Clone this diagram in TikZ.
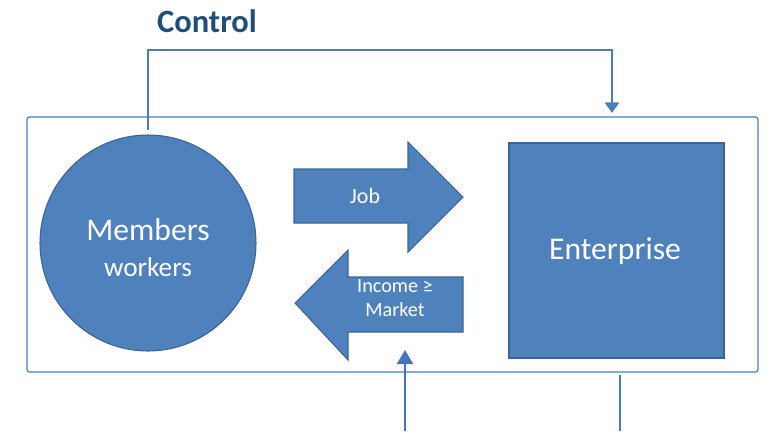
\documentclass[tikz,border=0pt]{standalone}
\usepackage{fontspec}
\setmainfont{Carlito}
\usepackage{tikz}
\usetikzlibrary{arrows.meta}

\definecolor{boxblue}{HTML}{4F81BD}
\definecolor{edgeblue}{HTML}{3B6496}
\definecolor{lineblue}{HTML}{4A7EBB}
\definecolor{titleblue}{HTML}{1F4E79}
\definecolor{pushblue}{HTML}{4472C4}

\begin{document}
\begin{tikzpicture}[
        block/.style={fill=boxblue, draw=edgeblue, line width=.6pt},
        label/.style={text=white, align=center},
        link/.style={lineblue, line width=1.6pt}
    ]
            \useasboundingbox (0,0) rectangle (15.38,8.62);

            % frame round the whole firm
            \draw[lineblue, line width=.7pt, rounded corners=1.5pt] (.54,1.18) rectangle (15.16,6.28);

            \node[block, circle, minimum size=4.32cm, inner sep=0pt] (members) at (2.96,3.76) {};
            \node[label, font=\fontsize{18}{20}\selectfont] (memtxt) at (2.96,4.02) {Members};
            \node[label, font=\fontsize{15.5}{17}\selectfont] (worktxt) at (2.96,3.28) {workers};

            \node[block, minimum width=4.3cm, minimum height=4.3cm, inner sep=0pt] (firm) at (12.33,3.61) {};
            \node[label, font=\fontsize{18}{20}\selectfont] (firmtxt) at (12.30,3.60) {Enterprise};

            % the two broad arrows
            \filldraw[block] (5.88,5.24) -- (8.16,5.24) -- (8.16,5.78) -- (9.26,4.68)
                -- (8.16,3.58) -- (8.16,4.16) -- (5.88,4.16) -- cycle;
            \node[label, font=\fontsize{12.5}{14}\selectfont] (job) at (7.30,4.70) {Job};

            \filldraw[block] (9.26,3.08) -- (6.96,3.08) -- (6.96,3.62) -- (5.90,2.56)
                -- (6.96,1.42) -- (6.96,1.98) -- (9.26,1.98) -- cycle;
            \node[label, font=\fontsize{11.5}{13.5}\selectfont] (income) at (7.90,2.66) {Income ≥\\Market};

            % control line
            \coordinate (ctlA) at (2.96,6.02);
            \coordinate (ctlB) at (12.24,6.36);
            \draw[link, -{Triangle[length=6pt, width=8pt]}] (ctlA) |- (12.24,7.62) -- (ctlB);
            \node[titleblue, font=\fontsize{18.5}{20}\bfseries] (control) at (4.14,8.20) {Control};

            % lines from below
            \coordinate (pushA) at (8.10,0);
            \coordinate (pushB) at (8.10,1.62);
            \draw[pushblue, line width=1.6pt, -{Triangle[length=8pt, width=9pt]}] (pushA) -- (pushB);
            \coordinate (dropA) at (12.40,1.12);
            \coordinate (dropB) at (12.40,0);
            \draw[lineblue, line width=.7pt] (dropA) -- (dropB);
        \end{tikzpicture}
\end{document}
